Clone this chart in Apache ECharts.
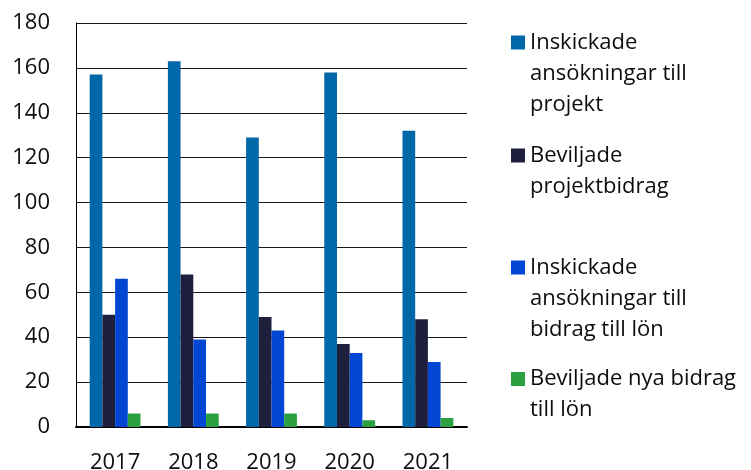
<!DOCTYPE html>
<html>
<head>
<meta charset="utf-8">
<script src="https://cdn.jsdelivr.net/npm/echarts@6/dist/echarts.min.js"></script>
<style>html,body{margin:0;padding:0;background:#fff}#c{width:751px;height:470px}</style>
</head>
<body>
<div id="c"></div>
<script>
const years = ['2017', '2018', '2019', '2020', '2021'];
const seriesNames = [
  'Inskickade ansökningar till projekt',
  'Beviljade projektbidrag',
  'Inskickade ansökningar till bidrag till lön',
  'Beviljade nya bidrag till lön'
];
const legendLabels = [
  'Inskickade\nansökningar till\nprojekt',
  'Beviljade\nprojektbidrag',
  'Inskickade\nansökningar till\nbidrag till lön',
  'Beviljade nya bidrag\ntill lön'
];
const ansokProjekt = [157, 163, 129, 158, 132];
const beviljadeProjekt = [50, 68, 49, 37, 48];
const ansokLon = [66, 39, 43, 33, 29];
const beviljadeLon = [6, 6, 6, 3, 4];
const colors = ['#0068A8', '#1D1F3C', '#0446D4', '#2BA040'];
const values = [ansokProjekt, beviljadeProjekt, ansokLon, beviljadeLon];

const FONT = '"Open Sans", "Noto Sans", sans-serif';
const FS = 22;
const LH = 31;
const legendTops = [27, 140, 252, 363.5];

const chart = echarts.init(document.getElementById('c'), null, {renderer: 'canvas'});

const legends = seriesNames.map((n, i) => {
  const lines = legendLabels[i].split('\n').length;
  const H = lines * LH;
  const y0 = LH / 2 - 7;
  return {
    orient: 'vertical',
    left: 511,
    top: legendTops[i],
    padding: 0,
    itemWidth: 14,
    itemHeight: H,
    selectedMode: false,
    icon: 'path://M0,0L0,0M0,' + y0 + 'h14v14h-14zM14,' + H + 'L14,' + H,
    data: [n],
    formatter: function () { return legendLabels[i]; },
    textStyle: {fontFamily: FONT, fontSize: FS, color: '#0d0d0d', lineHeight: LH}
  };
});

chart.setOption({
  animation: false,
  grid: {left: 76, right: 284, top: 23, bottom: 43, containLabel: false, outerBoundsMode: 'none'},
  legend: legends,
  xAxis: {
    type: 'category',
    data: years,
    axisLine: {lineStyle: {color: '#000', width: 2}},
    axisTick: {show: false},
    axisLabel: {fontFamily: FONT, fontSize: FS, color: '#0d0d0d', margin: 25}
  },
  yAxis: {
    type: 'value',
    min: 0, max: 180, interval: 20,
    axisLine: {show: true, lineStyle: {color: '#000', width: 1}},
    axisTick: {show: false},
    splitLine: {lineStyle: {color: '#1a1a1a', width: 1}},
    axisLabel: {fontFamily: FONT, fontSize: FS, color: '#0d0d0d', margin: 26}
  },
  series: seriesNames.map((n, i) => ({
    name: n,
    type: 'bar',
    data: values[i],
    barGap: '0%',
    barCategoryGap: '35%',
    itemStyle: {color: colors[i]}
  }))
});
</script>
</body>
</html>
